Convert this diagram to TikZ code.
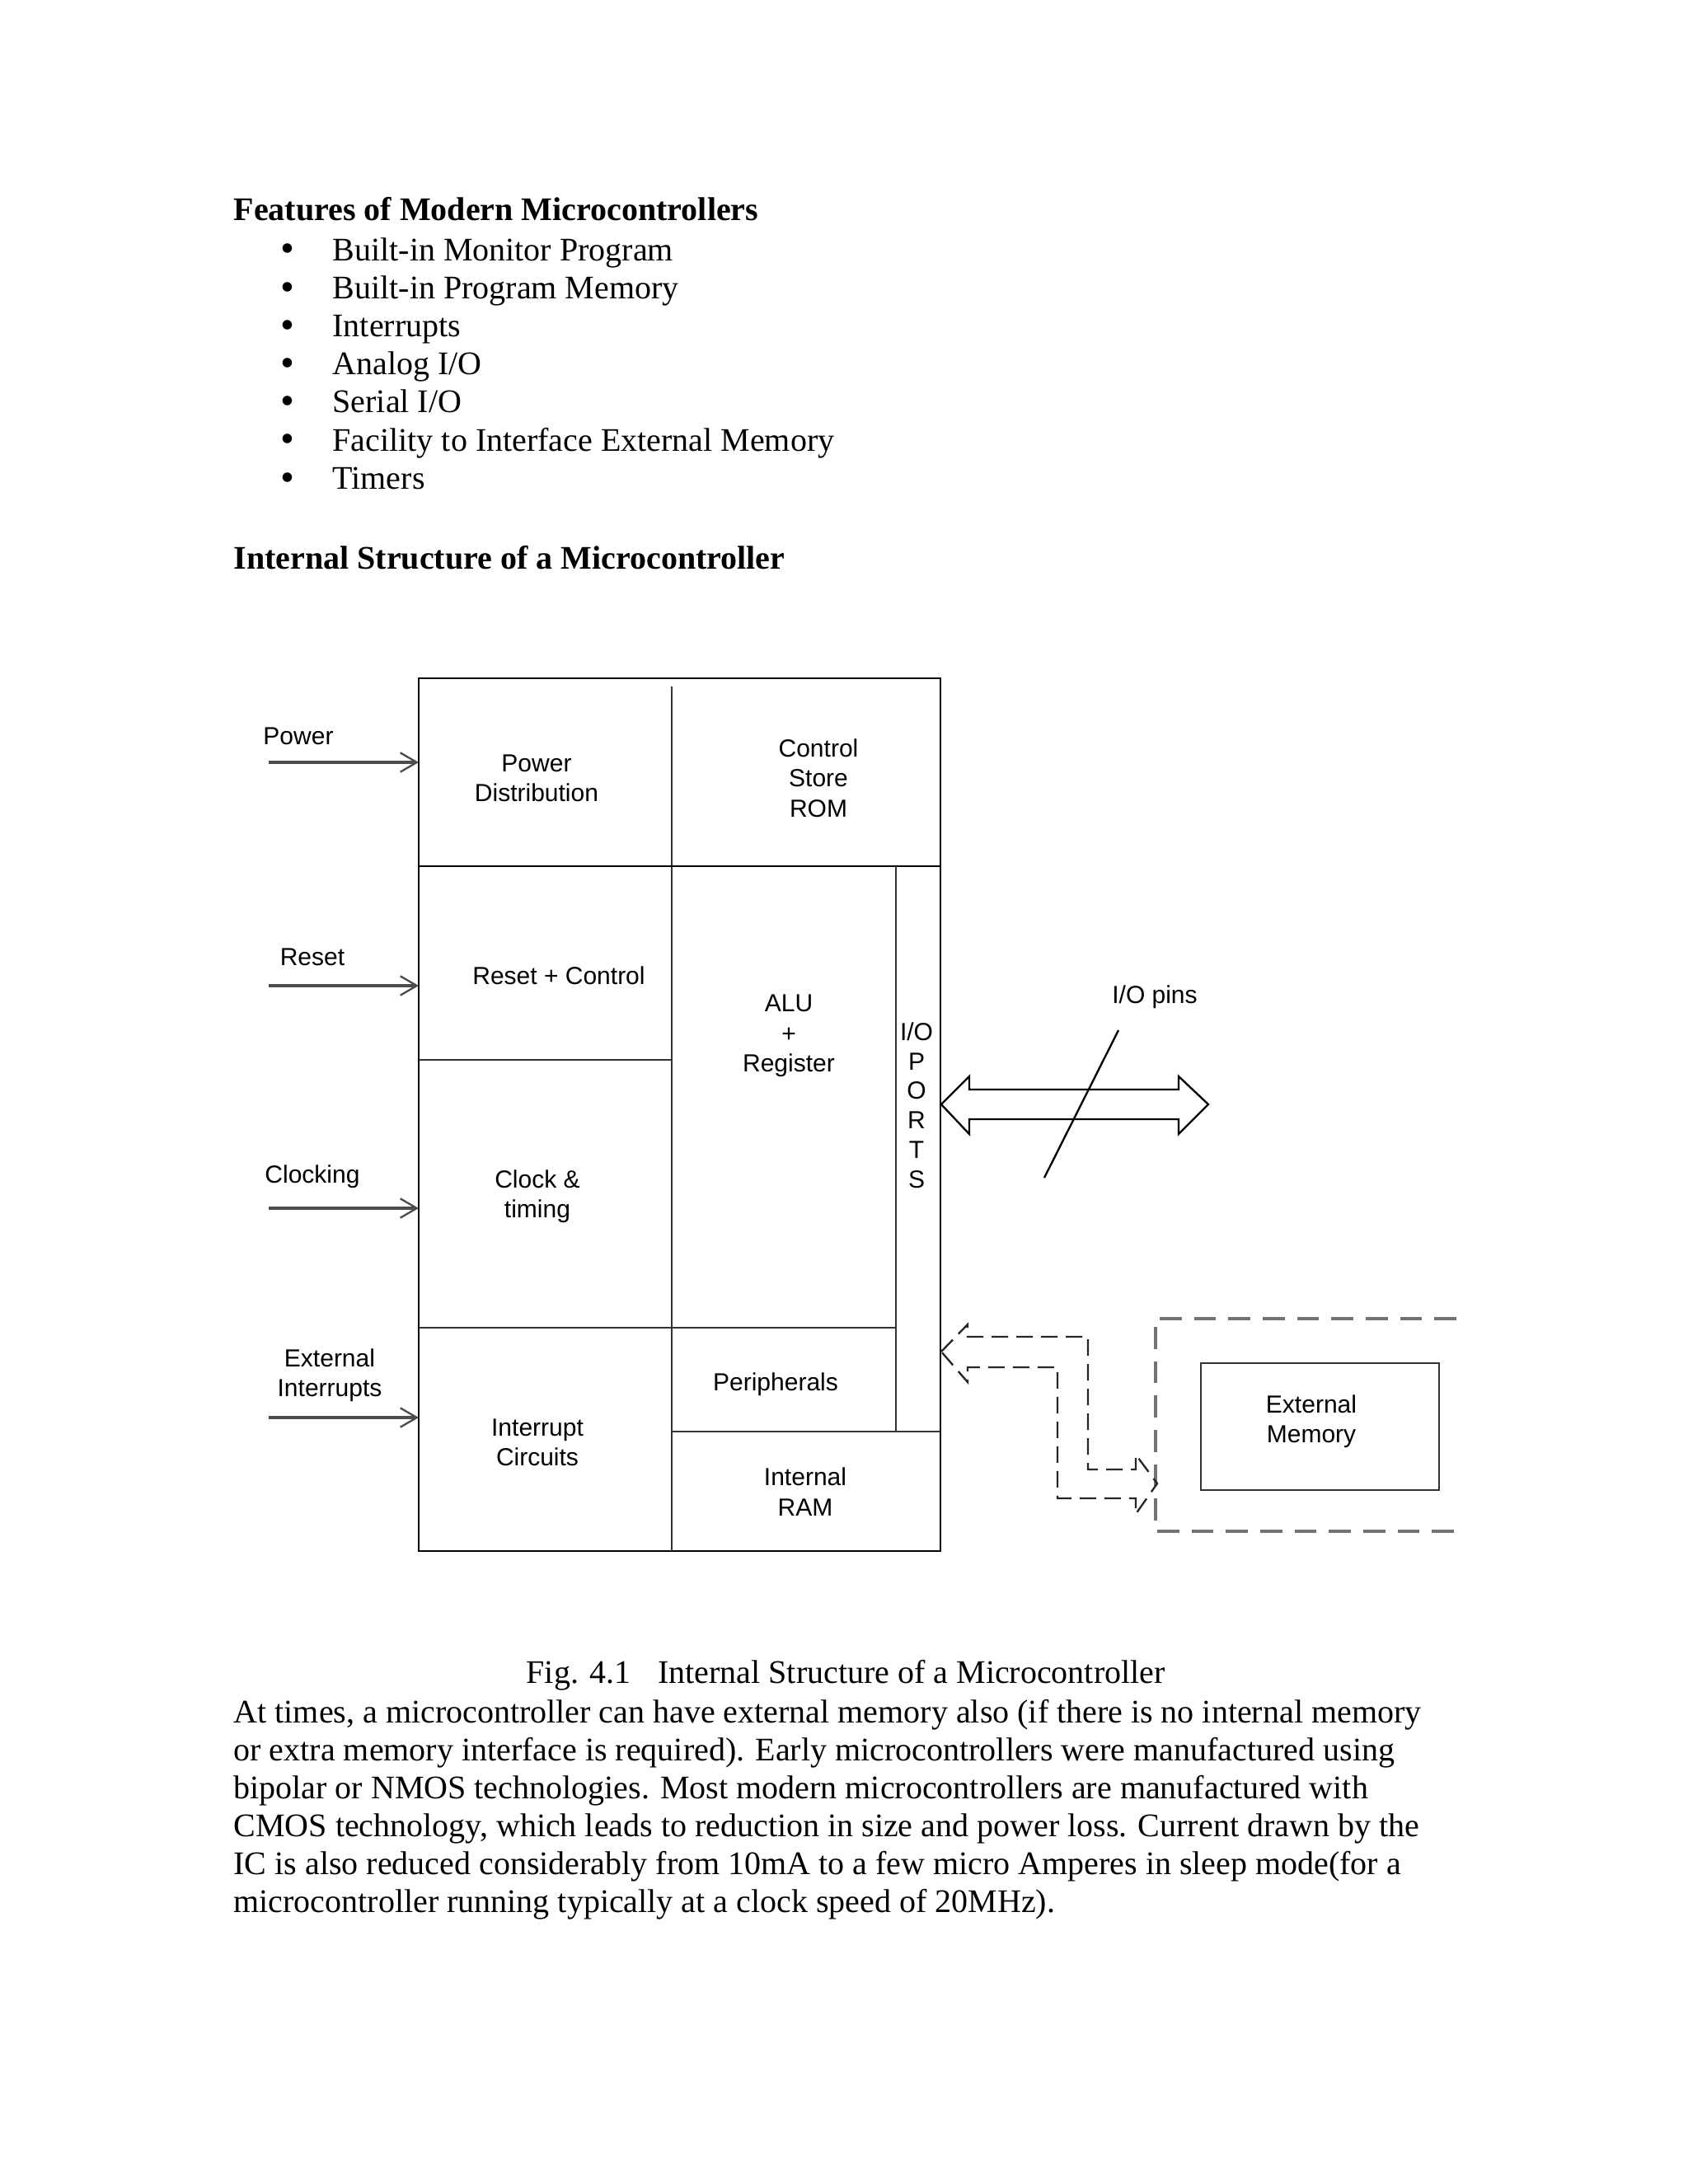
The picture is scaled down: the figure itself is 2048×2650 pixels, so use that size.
\documentclass[tikz,border=0pt]{standalone}
\usepackage{fontspec}
\setmainfont{Liberation Serif}
\newfontfamily\diafont{Liberation Sans}
\usetikzlibrary{arrows.meta}
\begin{document}
\begin{tikzpicture}[x=0.3pt,y=-0.3pt,
  bodytext/.style={anchor=base west, inner sep=0pt, font=\fontsize{12}{13.8}\selectfont},
  bul/.style={anchor=center, inner sep=0pt, font=\fontsize{14.5}{15}\selectfont},
  lbl/.style={font=\diafont\fontsize{9}{10.9}\selectfont, align=center, inner sep=0pt},
  portlbl/.style={font=\diafont\fontsize{9}{10.74}\selectfont, align=center, inner sep=0pt},
  outline/.style={line width=0.75pt, draw=black},
  cellline/.style={line width=0.8pt, draw=black!80},
  inarrow/.style={line width=1pt, draw=black!70, -{Straight Barb[length=6pt,width=7pt,line width=0.7pt]}},
  busarrow/.style={line width=0.7pt, draw=black, line join=miter},
  dasharrow/.style={line width=0.7pt, draw=black!85, dash pattern=on 6pt off 3pt},
  dashbox/.style={line width=1.2pt, draw=black!55, dash pattern=on 8pt off 4.5pt},
  membox/.style={line width=0.8pt, draw=black!80}
]
\fill[white] (0,0) rectangle (2048,2650);
\path[use as bounding box] (0,0) rectangle (2048,2650);

% ---------- text above ----------
\node[bodytext] (h1) at (283,267) {\bfseries Features of Modern Microcontrollers};
\foreach \t [count=\i from 0] in {Built-in Monitor Program,Built-in Program Memory,Interrupts,Analog I/O,Serial I/O,Facility to Interface External Memory,Timers}{
  \node[bul] (b\i) at (349,307+46.2*\i) {\textbullet};
  \node[bodytext] (it\i) at (403,316+46.2*\i) {\t};
}
\node[bodytext] (h2) at (283,690) {\bfseries Internal Structure of a Microcontroller};

% ---------- microcontroller box ----------
\coordinate (TL) at (508,823);
\coordinate (BR) at (1141,1882);
\draw[outline] (TL) rectangle (BR);
\draw[cellline] (815,833) -- (815,1882);
\draw[outline] (508,1051) -- (1141,1051);
\draw[cellline] (508,1286) -- (815,1286);
\draw[cellline] (508,1611) -- (1087,1611);
\draw[cellline] (1087,1051) -- (1087,1737);
\draw[cellline] (815,1737) -- (1141,1737);

\node[lbl] (pd)  at (651,944)  {Power\\Distribution};
\node[lbl] (cs)  at (993,944)  {Control\\Store\\ROM};
\node[lbl] (rc)  at (678,1184) {Reset + Control};
\node[lbl] (alu) at (957,1257) {ALU\\+\\Register};
\node[portlbl] (io) at (1112,1341) {I/O\\P\\O\\R\\T\\S};
\node[lbl] (ct)  at (652,1452) {Clock \&\\timing};
\node[lbl] (per) at (941,1680) {Peripherals};
\node[lbl] (ic)  at (652,1750) {Interrupt\\Circuits};
\node[lbl] (ram) at (977,1810) {Internal\\RAM};

% ---------- inputs ----------
\node[lbl] (pwrl) at (362,893)  {Power};
\node[lbl] (rstl) at (379,1161) {Reset};
\node[lbl] (clkl) at (379,1428) {Clocking};
\node[lbl] (extl) at (400,1669) {External\\Interrupts};

\coordinate (pwrS) at (326,925);  \coordinate (pwrE) at (508,925);
\coordinate (rstS) at (326,1196); \coordinate (rstE) at (508,1196);
\coordinate (clkS) at (326,1466); \coordinate (clkE) at (508,1466);
\coordinate (extS) at (326,1720); \coordinate (extE) at (508,1720);
\draw[inarrow] (pwrS) -- (pwrE);
\draw[inarrow] (rstS) -- (rstE);
\draw[inarrow] (clkS) -- (clkE);
\draw[inarrow] (extS) -- (extE);

% ---------- I/O pins bus ----------
\coordinate (busL) at (1142,1340);
\coordinate (busR) at (1466,1340);
\draw[busarrow] (busL) -- (1176,1306) -- (1176,1322) -- (1430,1322) -- (1430,1306)
  -- (busR) -- (1430,1376) -- (1430,1358) -- (1176,1358) -- (1176,1376) -- cycle;
\coordinate (slA) at (1357,1250);
\coordinate (slB) at (1267,1429);
\draw[line width=0.7pt] (slA) -- (slB);
\node[lbl] (iop) at (1401,1210) {I/O pins};

% ---------- external memory ----------
\draw[dashbox] (1767,1600) -- (1402,1600) -- (1402,1858) -- (1767,1858);
\node[membox, minimum width=86.7pt, minimum height=46.2pt, inner sep=0pt] (emb) at (1601.5,1731) {};
\node[lbl] (em) at (1591,1725) {External\\Memory};

\coordinate (dL) at (1142,1640);
\coordinate (dR) at (1404,1800);
\draw[dasharrow, line join=miter] (dL) -- (1174,1607) -- (1174,1622) -- (1320,1622) -- (1320,1783)
  -- (1378,1783) -- (1378,1765) -- (dR) -- (1378,1837) -- (1378,1818) -- (1283,1818)
  -- (1283,1659) -- (1174,1659) -- (1174,1677) -- cycle;

% ---------- caption and paragraph ----------
\node[bodytext] (cap) at (638,2042) {Fig. 4.1\hspace*{9.9pt}Internal Structure of a Microcontroller};
\node[bodytext] (p1) at (283,2090) {At times, a microcontroller can have external memory also (if there is no internal memory};
\node[bodytext] (p2) at (283,2136) {or extra memory interface is required). Early microcontrollers were manufactured using};
\node[bodytext] (p3) at (283,2182) {bipolar or NMOS technologies. Most modern microcontrollers are manufactured with};
\node[bodytext] (p4) at (283,2228) {CMOS technology, which leads to reduction in size and power loss. Current drawn by the};
\node[bodytext] (p5) at (283,2274) {IC is also reduced considerably from 10mA to a few micro Amperes in sleep mode(for a};
\node[bodytext] (p6) at (283,2320) {microcontroller running typically at a clock speed of 20MHz).};
\end{tikzpicture}
\end{document}
